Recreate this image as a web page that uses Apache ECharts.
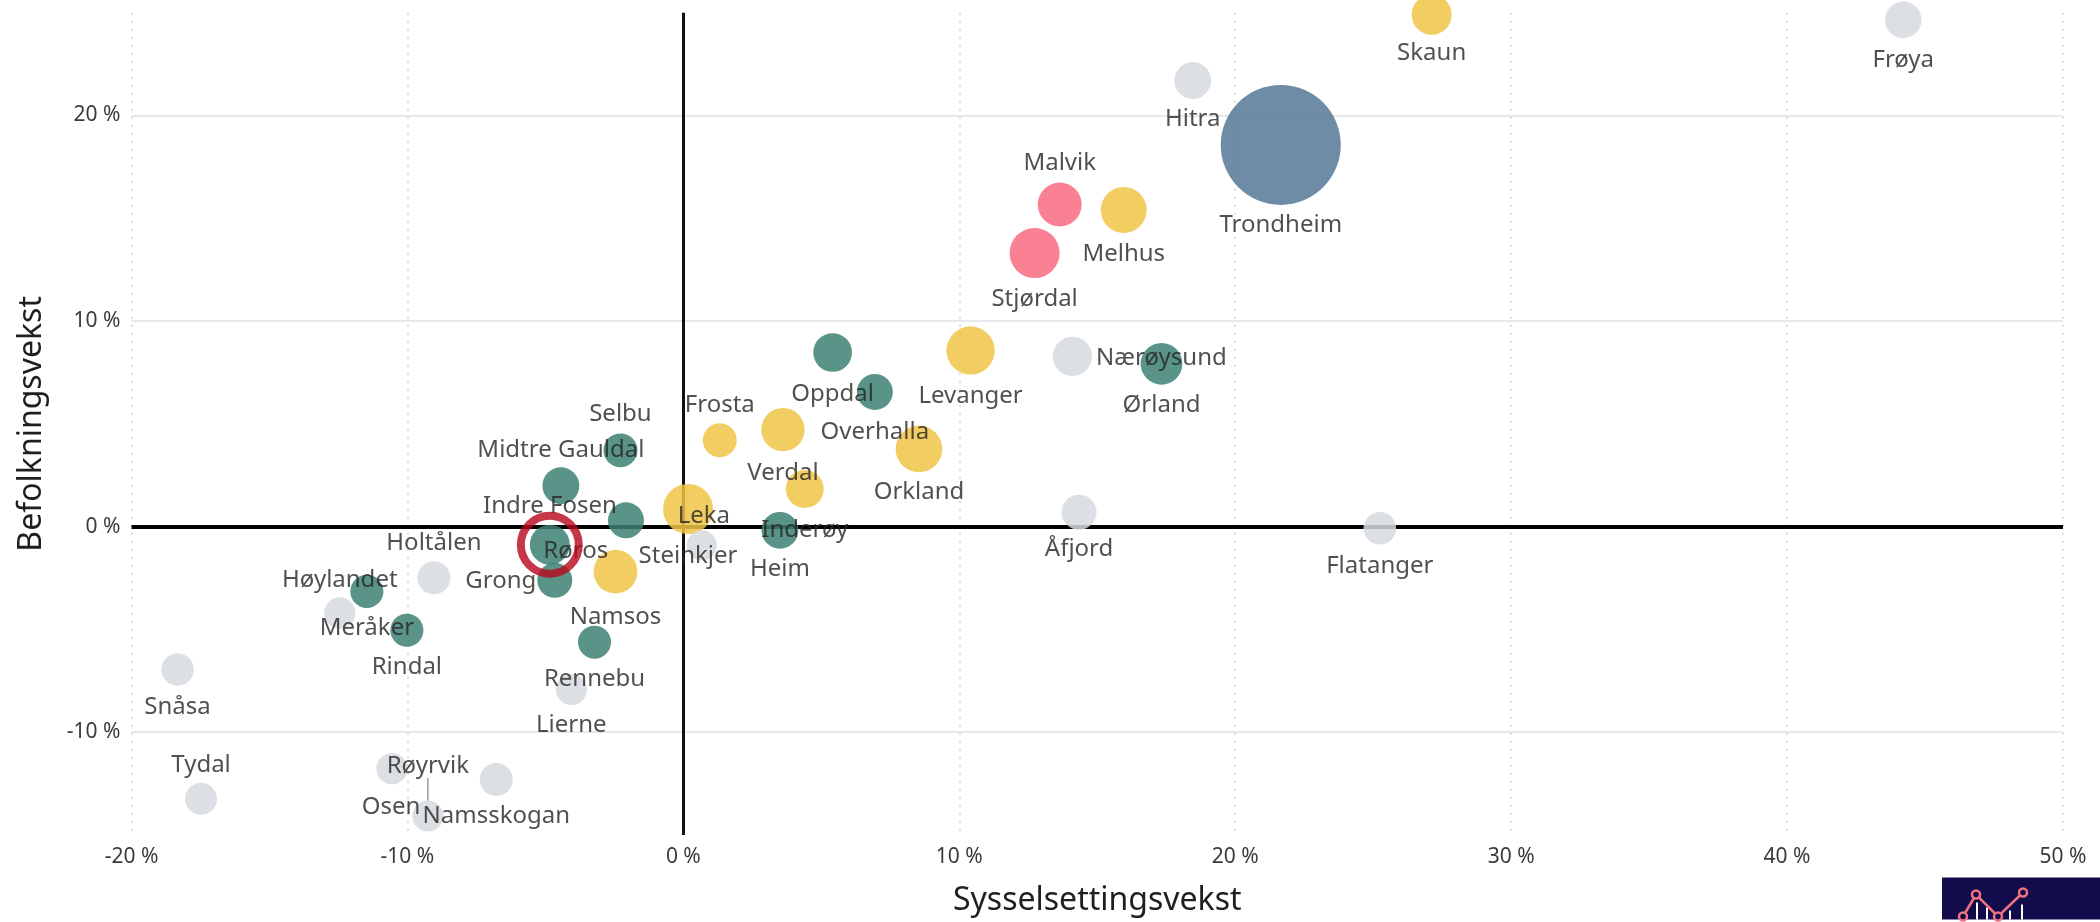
<!DOCTYPE html>
<html>
<head>
<meta charset="utf-8">
<title>Befolkningsvekst og sysselsettingsvekst</title>
<script src="https://cdn.jsdelivr.net/npm/echarts@6/dist/echarts.min.js"></script>
<style>
  html, body { margin: 0; padding: 0; background: #ffffff; }
  #chart { width: 2100px; height: 922px; }
</style>
</head>
<body>
<div id="chart"></div>
<script>
  // kommunene, lest av bildet
  const kommuner = ['Trondheim', 'Hitra', 'Frøya', 'Skaun', 'Malvik', 'Melhus', 'Stjørdal', 'Oppdal',
    'Overhalla', 'Levanger', 'Orkland', 'Frosta', 'Verdal', 'Inderøy', 'Heim', 'Steinkjer', 'Leka',
    'Selbu', 'Midtre Gauldal', 'Indre Fosen', 'Røros', 'Grong', 'Namsos', 'Holtålen', 'Høylandet',
    'Meråker', 'Rindal', 'Rennebu', 'Lierne', 'Snåsa', 'Tydal', 'Osen', 'Røyrvik', 'Namsskogan',
    'Nærøysund', 'Ørland', 'Åfjord', 'Flatanger'];
  // x: sysselsettingsvekst (%)
  const sysselsettingsvekst = [21.65, 18.46, 44.21, 27.12, 13.64, 15.96, 12.73, 5.41,
    6.94, 10.41, 8.54, 1.32, 3.61, 4.40, 3.50, 0.17, 0.67,
    -2.28, -4.44, -2.08, -4.84, -4.66, -2.46, -9.04, -12.45,
    -11.47, -10.02, -3.22, -4.06, -18.33, -17.48, -10.56, -9.26, -6.78,
    14.10, 17.33, 14.34, 25.24];
  // y: befolkningsvekst (%)
  const befolkningsvekst = [18.57, 21.70, 24.65, 24.9, 15.67, 15.40, 13.31, 8.47,
    6.55, 8.57, 3.78, 4.20, 4.72, 1.83, -0.18, 0.86, -0.91,
    3.71, 1.99, 0.31, -0.88, -2.61, -2.19, -2.49, -4.20,
    -3.15, -5.04, -5.62, -7.92, -6.95, -13.24, -11.78, -14.08, -12.30,
    8.28, 7.92, 0.70, -0.08];
  // boblestørrelse (relativ, Trondheim = 100)
  const storrelse = [100, 9.5, 9.3, 11.1, 13.4, 14.7, 17.4, 10.4,
    9.0, 16.2, 15.1, 8.0, 13.0, 10.0, 9.4, 17.4, 6.25,
    8.0, 9.5, 9.0, 11.1, 8.5, 13.3, 7.6, 6.8,
    7.6, 7.6, 7.6, 6.7, 7.3, 7.1, 6.7, 6.7, 7.6,
    10.7, 12.1, 8.5, 7.4];
  const gruppe = ['storby', 'gra', 'gra', 'gul', 'rosa', 'gul', 'rosa', 'gronn',
    'gronn', 'gul', 'gul', 'gul', 'gul', 'gul', 'gronn', 'gul', 'gra',
    'gronn', 'gronn', 'gronn', 'gronn', 'gronn', 'gul', 'gra', 'gra',
    'gronn', 'gronn', 'gronn', 'gra', 'gra', 'gra', 'gra', 'gra', 'gra',
    'gra', 'gronn', 'gra', 'gra'];
  const xTicks = [-20, -10, 0, 10, 20, 30, 40, 50];
  const yTicks = [-10, 0, 10, 20];
  const markert = 'Røros';

  // stil
  const farger = {
    storby: '#567896',
    rosa: '#f96a81',
    gul: '#f0c446',
    gronn: '#3d8173',
    gra: '#d6dbe0'
  };
  // plassering av etikett i forhold til boblens sentrum [dx, dy]
  const etikett = {
    'Trondheim': [0, 80], 'Hitra': [0, 39], 'Frøya': [0, 40], 'Skaun': [0, 38],
    'Malvik': [0, -41], 'Melhus': [0, 44], 'Stjørdal': [0, 46], 'Oppdal': [0, 42],
    'Overhalla': [0, 40], 'Levanger': [0, 46], 'Orkland': [0, 43], 'Frosta': [0, -35],
    'Verdal': [0, 44], 'Inderøy': [0, 41], 'Heim': [0, 39], 'Steinkjer': [0, 47],
    'Leka': [2, -29], 'Selbu': [0, -36], 'Midtre Gauldal': [0, -36], 'Indre Fosen': [-76, -14],
    'Røros': [26, 6], 'Grong': [-54, 1], 'Namsos': [0, 45], 'Holtålen': [0, -35],
    'Høylandet': [0, -33], 'Meråker': [0, 37], 'Rindal': [0, 37], 'Rennebu': [0, 37],
    'Lierne': [0, 36], 'Snåsa': [0, 38], 'Tydal': [0, -34], 'Osen': [-1, 38],
    'Røyrvik': [0, -50], 'Namsskogan': [0, 37], 'Nærøysund': [89, 2], 'Ørland': [0, 41],
    'Åfjord': [0, 37], 'Flatanger': [0, 38]
  };
  const font = '"Segoe UI", "Noto Sans", "Open Sans", sans-serif';
  const bobleStr = v => 12 * Math.sqrt(v[2]);

  const punkter = kommuner.map((navn, i) => ({
    name: navn,
    value: [sysselsettingsvekst[i], befolkningsvekst[i], storrelse[i]],
    itemStyle: { color: farger[gruppe[i]] }
  }));

  const etiketter = kommuner.map((navn, i) => {
    const d = {
      name: navn,
      value: [sysselsettingsvekst[i], befolkningsvekst[i], storrelse[i]],
      label: { offset: etikett[navn] || [0, 0] }
    };
    if (navn === 'Røyrvik') {
      d.labelLine = { show: true, lineStyle: { color: '#9a9a9a', width: 1.5 } };
    }
    return d;
  });

  const iM = kommuner.indexOf(markert);

  const chart = echarts.init(document.getElementById('chart'));
  chart.setOption({
    animation: false,
    backgroundColor: '#ffffff',
    grid: { left: 131.5, right: 37, top: 12.7, bottom: 86.4 },
    xAxis: {
      type: 'value',
      min: xTicks[0],
      max: xTicks[xTicks.length - 1],
      interval: 10,
      name: 'Sysselsettingsvekst',
      nameLocation: 'middle',
      nameGap: 50,
      nameTextStyle: { fontSize: 32, color: '#201f1e', fontFamily: font },
      axisLine: { show: false },
      axisTick: { show: false },
      axisLabel: {
        formatter: v => v + ' %',
        fontSize: 21, color: '#3b3a39', margin: 12, fontFamily: font
      },
      splitLine: { show: true, lineStyle: { color: '#cfcfcf', width: 1.5, type: [2, 6] } }
    },
    yAxis: {
      type: 'value',
      min: -15,
      max: 25,
      interval: 5,
      name: 'Befolkningsvekst',
      nameLocation: 'middle',
      nameGap: 84,
      nameTextStyle: { fontSize: 32, color: '#201f1e', fontFamily: font },
      axisLine: { show: false },
      axisTick: { show: false },
      axisLabel: {
        formatter: v => (yTicks.indexOf(v) >= 0 ? v + ' %' : ''),
        fontSize: 21, color: '#3b3a39', margin: 11, fontFamily: font
      },
      splitLine: { show: false }
    },
    series: [
      {
        name: 'kommuner',
        type: 'scatter',
        z: 2,
        clip: true,
        symbolSize: bobleStr,
        itemStyle: { opacity: 0.85 },
        data: punkter,
        markLine: {
          z: 1,
          silent: true,
          symbol: 'none',
          label: { show: false },
          emphasis: { disabled: true },
          data: yTicks.filter(t => t !== 0).map(t => ({
            yAxis: t, lineStyle: { color: '#e6e8ec', width: 2, type: 'solid' }
          })).concat([
            { yAxis: 0, lineStyle: { color: '#000000', width: 4, type: 'solid' } },
            { xAxis: 0, lineStyle: { color: '#111111', width: 3, type: 'solid' } }
          ])
        }
      },
      {
        name: 'navn',
        type: 'scatter',
        z: 4,
        silent: true,
        clip: true,
        symbolSize: bobleStr,
        itemStyle: { color: 'rgba(0,0,0,0)' },
        label: {
          show: true,
          position: 'inside',
          formatter: '{b}',
          fontSize: 24,
          color: '#252423',
          fontFamily: font
        },
        data: etiketter
      },
      {
        name: 'markert',
        type: 'scatter',
        z: 5,
        silent: true,
        symbolSize: 58,
        itemStyle: { color: 'rgba(0,0,0,0)', borderColor: '#b8061b', borderWidth: 8 },
        data: [[sysselsettingsvekst[iM], befolkningsvekst[iM]]]
      }
    ],
    graphic: [
      {
        type: 'group',
        right: 0,
        bottom: 0,
        children: [
          { type: 'rect', shape: { x: 0, y: 0, width: 158, height: 42 }, style: { fill: '#120b4c' } },
          { type: 'line', shape: { x1: 35, y1: 25, x2: 35, y2: 42 }, style: { stroke: '#ffffff', lineWidth: 2 } },
          { type: 'line', shape: { x1: 45, y1: 30, x2: 45, y2: 42 }, style: { stroke: '#ffffff', lineWidth: 2 } },
          { type: 'line', shape: { x1: 68, y1: 33, x2: 68, y2: 42 }, style: { stroke: '#ffffff', lineWidth: 2 } },
          { type: 'line', shape: { x1: 80, y1: 27, x2: 80, y2: 42 }, style: { stroke: '#ffffff', lineWidth: 2 } },
          { type: 'polyline', shape: { points: [[21, 39], [34, 17], [56, 39], [81, 15]] }, style: { stroke: '#f0717f', lineWidth: 2.5, fill: null } },
          { type: 'circle', shape: { cx: 21, cy: 39, r: 4 }, style: { stroke: '#f0717f', lineWidth: 2.5, fill: '#120b4c' } },
          { type: 'circle', shape: { cx: 34, cy: 17, r: 4 }, style: { stroke: '#f0717f', lineWidth: 2.5, fill: '#120b4c' } },
          { type: 'circle', shape: { cx: 56, cy: 39, r: 4 }, style: { stroke: '#f0717f', lineWidth: 2.5, fill: '#120b4c' } },
          { type: 'circle', shape: { cx: 81, cy: 15, r: 4 }, style: { stroke: '#f0717f', lineWidth: 2.5, fill: '#120b4c' } }
        ]
      }
    ]
  });
</script>
</body>
</html>
